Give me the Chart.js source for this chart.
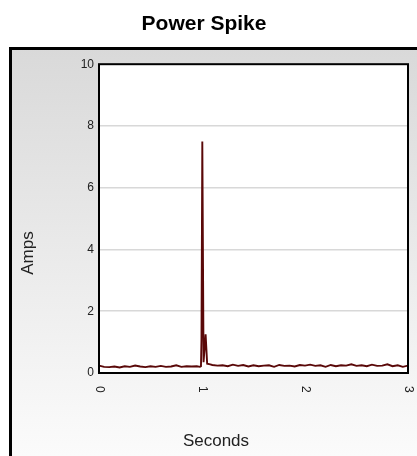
<!DOCTYPE html>
<html>
<head>
<meta charset="utf-8">
<script src="https://cdn.jsdelivr.net/npm/chart.js@4/dist/chart.umd.min.js"></script>
<style>
html, body { margin: 0; padding: 0; background: #fff; }
#wrap { width: 417px; height: 456px; }
</style>
</head>
<body>
<div id="wrap"><canvas id="chart"></canvas></div>
<script>
// readings
let seconds = [0, 0.05, 0.1, 0.15, 0.2, 0.25, 0.3, 0.35, 0.4, 0.45, 0.5, 0.55, 0.6, 0.65, 0.7, 0.75, 0.8, 0.85, 0.9, 0.95,
    0.98, 0.99, 0.995, 1.003, 1.015, 1.035, 1.05, 1.08,
    1.1, 1.15, 1.2, 1.25, 1.3, 1.35, 1.4, 1.45, 1.5, 1.55, 1.6, 1.65, 1.7, 1.75, 1.8, 1.85, 1.9, 1.95,
    2.0, 2.05, 2.1, 2.15, 2.2, 2.25, 2.3, 2.35, 2.4, 2.45, 2.5, 2.55, 2.6, 2.65, 2.7, 2.75, 2.8, 2.85, 2.9, 2.95, 3.0]
let amps = [0.24, 0.2, 0.19, 0.21, 0.18, 0.22, 0.2, 0.24, 0.21, 0.19, 0.22, 0.2, 0.23, 0.2, 0.21, 0.25, 0.2, 0.22, 0.21, 0.22,
    0.2, 0.22, 1.1, 7.5, 0.35, 1.25, 0.3, 0.28,
    0.26, 0.24, 0.25, 0.22, 0.27, 0.23, 0.26, 0.21, 0.25, 0.22, 0.24, 0.25, 0.2, 0.26, 0.23, 0.24, 0.21, 0.26,
    0.24, 0.27, 0.23, 0.25, 0.2, 0.26, 0.22, 0.25, 0.24, 0.28, 0.23, 0.25, 0.22, 0.27, 0.23, 0.24, 0.28, 0.22, 0.25, 0.2, 0.24]
let xticks = [0, 1, 2, 3]
let yticks = [0, 2, 4, 6, 8, 10]

let points = []
for (let i = 0; i < seconds.length; i++) {
    points.push({x: seconds[i], y: amps[i]})
}

const decor = {
    id: 'decor',
    beforeDraw(chart) {
        let ctx = chart.ctx
        let a = chart.chartArea
        ctx.save()
        let g = ctx.createLinearGradient(0, 48, 0, 456)
        g.addColorStop(0, '#d9d9d9')
        g.addColorStop(1, '#fbfbfb')
        ctx.fillStyle = g
        ctx.fillRect(10, 48, 407, 408)
        ctx.fillStyle = '#000'
        ctx.fillRect(9, 47, 408, 3)
        ctx.fillRect(9, 47, 3, 409)
        ctx.fillStyle = '#fff'
        ctx.fillRect(a.left, a.top, a.right - a.left, a.bottom - a.top)
        ctx.restore()
    },
    afterDraw(chart) {
        let ctx = chart.ctx
        let a = chart.chartArea
        let xs = chart.scales.x
        ctx.save()
        // plot frame
        ctx.strokeStyle = '#000'
        ctx.lineWidth = 2
        ctx.strokeRect(a.left, a.top, a.right - a.left, a.bottom - a.top)
        // x tick labels, turned clockwise
        ctx.fillStyle = '#222'
        ctx.font = '12px "Liberation Sans", Arial, sans-serif'
        ctx.textAlign = 'left'
        ctx.textBaseline = 'middle'
        for (let t of xticks) {
            ctx.save()
            ctx.translate(xs.getPixelForValue(t), a.bottom + 13)
            ctx.rotate(Math.PI / 2)
            ctx.fillText(String(t), 0, 0)
            ctx.restore()
        }
        // axis titles
        ctx.font = '17px "Liberation Sans", Arial, sans-serif'
        ctx.textAlign = 'center'
        ctx.fillText('Seconds', 216, 441)
        ctx.save()
        ctx.translate(28, 253)
        ctx.rotate(-Math.PI / 2)
        ctx.fillText('Amps', 0, 0)
        ctx.restore()
        ctx.restore()
    }
}

new Chart(document.getElementById('chart'), {
    type: 'line',
    data: {
        datasets: [{
            data: points,
            borderColor: '#5a0808',
            borderWidth: 1.9,
            pointRadius: 0,
            tension: 0,
            fill: false
        }]
    },
    options: {
        responsive: true,
        maintainAspectRatio: false,
        animation: false,
        devicePixelRatio: 1,
        layout: { padding: { left: 0, right: 9, top: 0, bottom: 0 } },
        plugins: {
            legend: { display: false },
            tooltip: { enabled: false },
            title: {
                display: true,
                text: 'Power Spike',
                color: '#000',
                font: { family: '"Liberation Sans", Arial, sans-serif', size: 21, weight: 'bold' },
                padding: { top: 12, bottom: 27 }
            }
        },
        scales: {
            x: {
                type: 'linear',
                min: 0,
                max: 3,
                ticks: { display: false },
                grid: { display: false },
                border: { display: false },
                afterFit: s => { s.height = 83 }
            },
            y: {
                min: 0,
                max: 10,
                afterBuildTicks: s => { s.ticks = yticks.map(v => ({value: v})) },
                ticks: {
                    color: '#222',
                    padding: 5,
                    font: { family: '"Liberation Sans", Arial, sans-serif', size: 12 }
                },
                grid: {
                    drawTicks: false,
                    lineWidth: 1.5,
                    color: c => (c.tick.value == 0 || c.tick.value == 10) ? 'rgba(0,0,0,0)' : '#d8d8d8'
                },
                border: { display: false },
                afterFit: s => { s.width = 99 }
            }
        }
    },
    plugins: [decor]
})
</script>
</body>
</html>
